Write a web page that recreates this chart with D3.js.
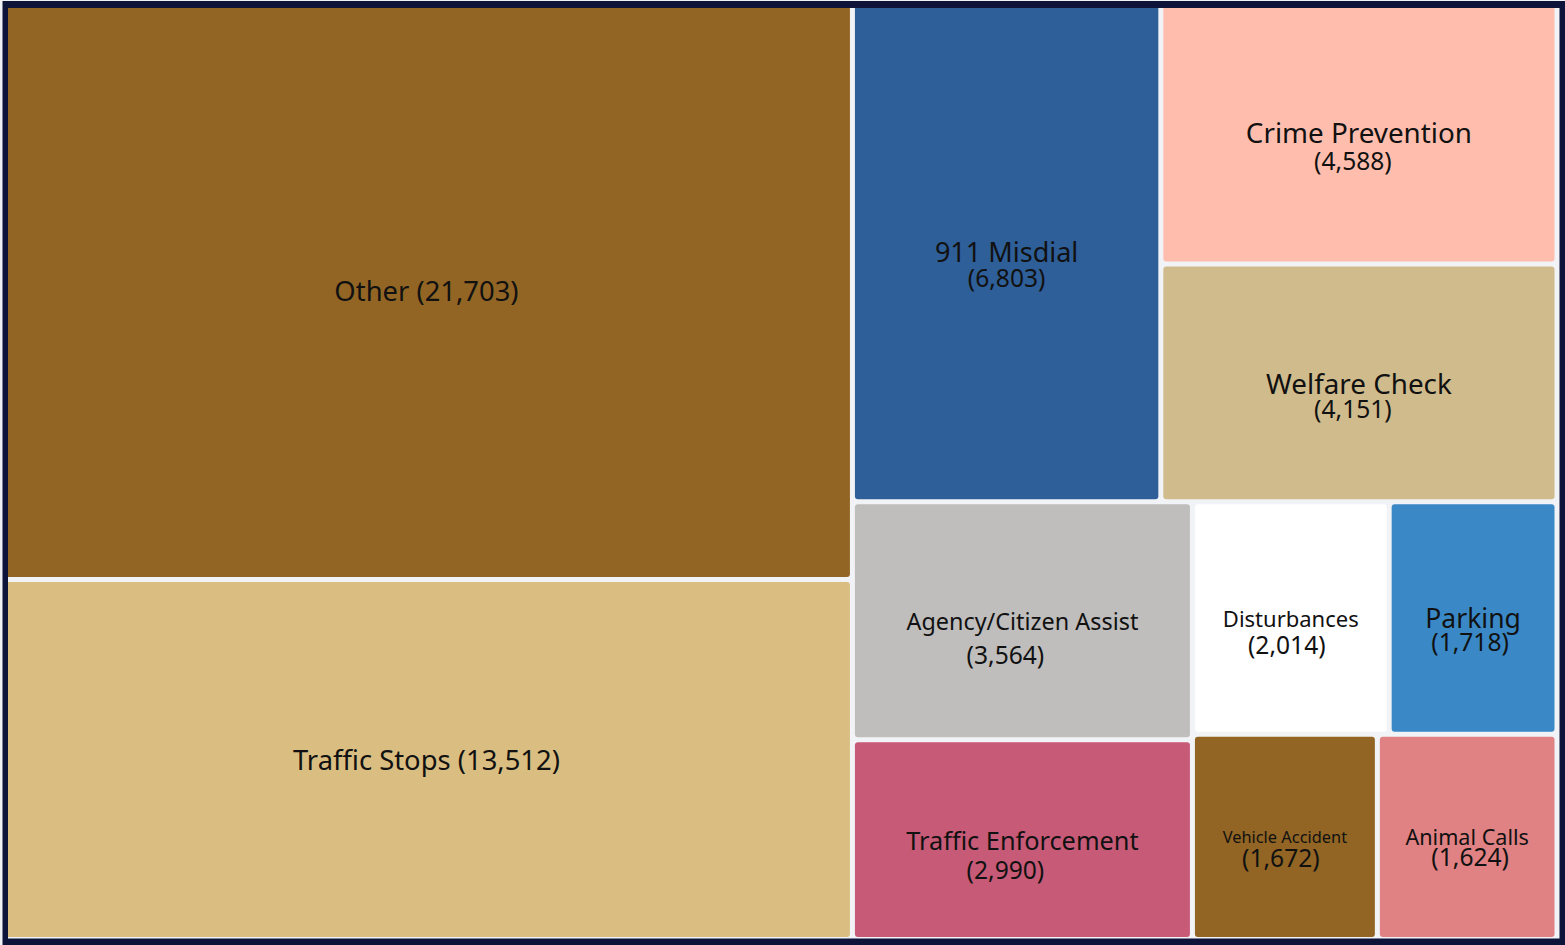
<!DOCTYPE html>
<html>
<head>
<meta charset="utf-8">
<script src="https://cdn.jsdelivr.net/npm/d3@7"></script>
<style>
  html, body { margin: 0; padding: 0; background: #f1f1f3; }
  svg { display: block; }
  text { font-family: "Noto Sans", "Open Sans", sans-serif; fill: #111; }
</style>
</head>
<body>
<svg id="chart" width="1565" height="945"></svg>
<script>
// ---- data ----
const categories = ["Other", "Traffic Stops", "911 Misdial", "Crime Prevention", "Welfare Check",
  "Agency/Citizen Assist", "Traffic Enforcement", "Disturbances", "Parking", "Vehicle Accident", "Animal Calls"];
const values = [21703, 13512, 6803, 4588, 4151, 3564, 2990, 2014, 1718, 1672, 1624];
const colors = ["#926524", "#dabe81", "#2e5f99", "#ffbead", "#d0bb8c", "#bfbebd", "#c75a77", "#ffffff", "#3a89c6", "#926524", "#e08284"];

// grouping that reproduces the slice/dice arrangement
const groups = {
  name: "root", children: [
    { name: "left", children: ["Other", "Traffic Stops"] },
    { name: "right", children: [
      { name: "top", children: ["911 Misdial", { name: "cw", children: ["Crime Prevention", "Welfare Check"] }] },
      { name: "bottom", children: [
        { name: "at", children: ["Agency/Citizen Assist", "Traffic Enforcement"] },
        { name: "small", children: [
          { name: "r1", children: ["Disturbances", "Parking"] },
          { name: "r2", children: ["Vehicle Accident", "Animal Calls"] }
        ] }
      ] }
    ] }
  ]
};

// label styles: name size, value size, inline, value offsets
const labelStyle = {
  "Other":                 { fs: 27.4, inline: true },
  "Traffic Stops":         { fs: 27.4, inline: true },
  "911 Misdial":           { fs: 27, vs: 24.6, dy: 26, dx: 0 },
  "Crime Prevention":      { fs: 27.8, vs: 24.6, dy: 28, dx: -6 },
  "Welfare Check":         { fs: 27.8, vs: 24.6, dy: 26, dx: -6 },
  "Agency/Citizen Assist": { fs: 23.4, vs: 24.6, dy: 34, dx: -17 },
  "Traffic Enforcement":   { fs: 25.3, vs: 24.6, dy: 30, dx: -17 },
  "Disturbances":          { fs: 22, vs: 24.6, dy: 26, dx: -4 },
  "Parking":               { fs: 26.5, vs: 24.6, dy: 23, dx: -3 },
  "Vehicle Accident":      { fs: 16.4, vs: 24.6, dy: 21, dx: -4 },
  "Animal Calls":          { fs: 21.6, vs: 24.6, dy: 20, dx: 3 }
};

const valueOf = new Map(categories.map((c, i) => [c, values[i]]));
const colorOf = new Map(categories.map((c, i) => [c, colors[i]]));
function build(g) {
  if (typeof g === "string") return { name: g, value: valueOf.get(g) };
  return { name: g.name, children: g.children.map(build) };
}

const svg = d3.select("#chart");
const W = 1565, H = 945;
const fmt = d3.format(",");

const X0 = 3, Y0 = 3.5, X1 = 1554.5, Y1 = 937;
const root = d3.hierarchy(build(groups)).sum(d => d.value || 0);
d3.treemap()
  .tile(d3.treemapSliceDice)
  .paddingInner(5)
  .size([X1 - X0, Y1 - Y0])(root);

// plot background
svg.append("rect").attr("x", 2).attr("y", 1).attr("width", W - 2).attr("height", H - 1).attr("fill", "#f2f3f6");

const plot = svg.append("g").attr("transform", `translate(${X0},${Y0})`);
const leaves = plot.selectAll("g").data(root.leaves()).join("g");
leaves.append("rect")
  .attr("x", d => d.x0).attr("y", d => d.y0)
  .attr("width", d => d.x1 - d.x0).attr("height", d => d.y1 - d.y0)
  .attr("rx", 3).attr("ry", 3)
  .attr("fill", d => colorOf.get(d.data.name));

leaves.each(function(d) {
  const g = d3.select(this);
  const s = labelStyle[d.data.name];
  const cx = (d.x0 + d.x1) / 2, cy = (d.y0 + d.y1) / 2;
  if (s.inline) {
    g.append("text").attr("x", cx).attr("y", cy).attr("text-anchor", "middle")
      .attr("dominant-baseline", "central").attr("font-size", s.fs)
      .text(`${d.data.name} (${fmt(d.value)})`);
  } else {
    g.append("text").attr("x", cx).attr("y", cy).attr("text-anchor", "middle")
      .attr("dominant-baseline", "central").attr("font-size", s.fs)
      .text(d.data.name);
    g.append("text").attr("x", cx + s.dx).attr("y", cy + s.dy).attr("text-anchor", "middle")
      .attr("dominant-baseline", "central").attr("font-size", s.vs)
      .text(`(${fmt(d.value)})`);
  }
});

// navy frame drawn over the edges
svg.append("path")
  .attr("fill", "#0e1439")
  .attr("fill-rule", "evenodd")
  .attr("d", `M2.5,1H${W}V${H}H2.5Z M8,8V938.5H1559.5V8Z`);
</script>
</body>
</html>
